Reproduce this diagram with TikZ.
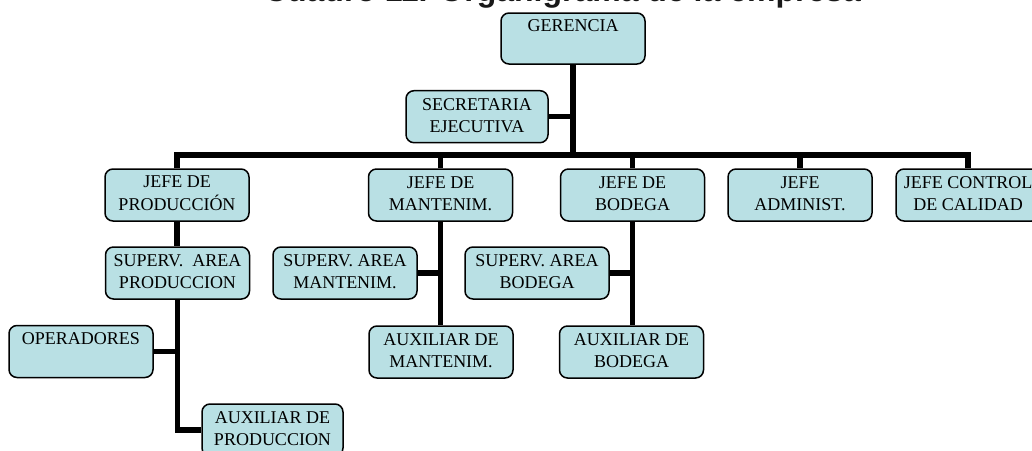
\documentclass[tikz,border=0pt]{standalone}
\usepackage{fontspec}
\setmainfont{Liberation Serif}
\newfontfamily\titlefont{Liberation Sans}
\definecolor{boxfill}{RGB}{185,224,228}
\begin{document}
\begin{tikzpicture}[x=1pt,y=-1pt,
  orgbox/.style={draw=black, line width=1.5pt, fill=boxfill, rounded corners=8pt,
    minimum width=144pt, minimum height=52pt, inner sep=0pt, align=center,
    font=\fontsize{18}{22}\selectfont},
  link/.style={line width=5.5pt, draw=black, line join=miter}]
\useasboundingbox (0,0) rectangle (1032,450);
\clip (0,0) rectangle (1032,450);
\node[anchor=base west, inner sep=0pt, outer sep=0pt, font=\titlefont\bfseries\fontsize{32}{38}\selectfont, text=black!90] (title) at (264,1.5) {Cuadro 11. Organigrama de la empresa};

\node[orgbox, minimum height=51pt] (ger) at (573,38.5) {\strut GERENCIA\\\strut};
\node[orgbox, minimum width=142pt] (sec) at (477,116.7) {\strut SECRETARIA\\\strut EJECUTIVA};
\node[orgbox] (jp) at (177,195) {\strut JEFE DE\\\strut PRODUCCIÓN};
\node[orgbox] (jm) at (440.5,195) {\strut JEFE DE\\\strut MANTENIM.};
\node[orgbox] (jb) at (632.5,195) {\strut JEFE DE\\\strut BODEGA};
\node[orgbox] (ja) at (800,195) {\strut JEFE\\\strut ADMINIST.};
\node[orgbox] (jc) at (968,195) {\strut JEFE CONTROL\\\strut DE CALIDAD};
\node[orgbox] (sp) at (177.5,273) {\strut SUPERV.\ \ AREA\\\strut PRODUCCION};
\node[orgbox] (sm) at (345,273) {\strut SUPERV. AREA\\\strut MANTENIM.};
\node[orgbox] (sb) at (537,273) {\strut SUPERV. AREA\\\strut BODEGA};
\node[orgbox] (op) at (81,351.5) {\strut OPERADORES\\\strut};
\node[orgbox] (am) at (441,352) {\strut AUXILIAR DE\\\strut MANTENIM.};
\node[orgbox] (ab) at (631.5,352) {\strut AUXILIAR DE\\\strut BODEGA};
\node[orgbox, minimum width=141pt] (ap) at (272.5,430) {\strut AUXILIAR DE\\\strut PRODUCCION};

\coordinate (bus) at (573,155);
\draw[link] (ger.south) -- (ger.south |- bus);
\draw[link] (jp.north) -- (jp.north |- bus) -- (jc.north |- bus) -- (jc.north);
\draw[link] (jm.north) -- (jm.north |- bus);
\draw[link] (jb.north) -- (jb.north |- bus);
\draw[link] (ja.north) -- (ja.north |- bus);
\draw[link] (sec.east) -- (sec.east -| ger.south);
\draw[link] (jp.south) -- (jp.south |- sp.north);
\draw[link] (jm.south) -- (jm.south |- am.north);
\draw[link] (sm.east) -- (sm.east -| jm.south);
\draw[link] (jb.south) -- (jb.south |- ab.north);
\draw[link] (sb.east) -- (sb.east -| jb.south);
\draw[link] (sp.south) |- (ap.west);
\draw[link] (op.east) -- (op.east -| sp.south);
\end{tikzpicture}
\end{document}
